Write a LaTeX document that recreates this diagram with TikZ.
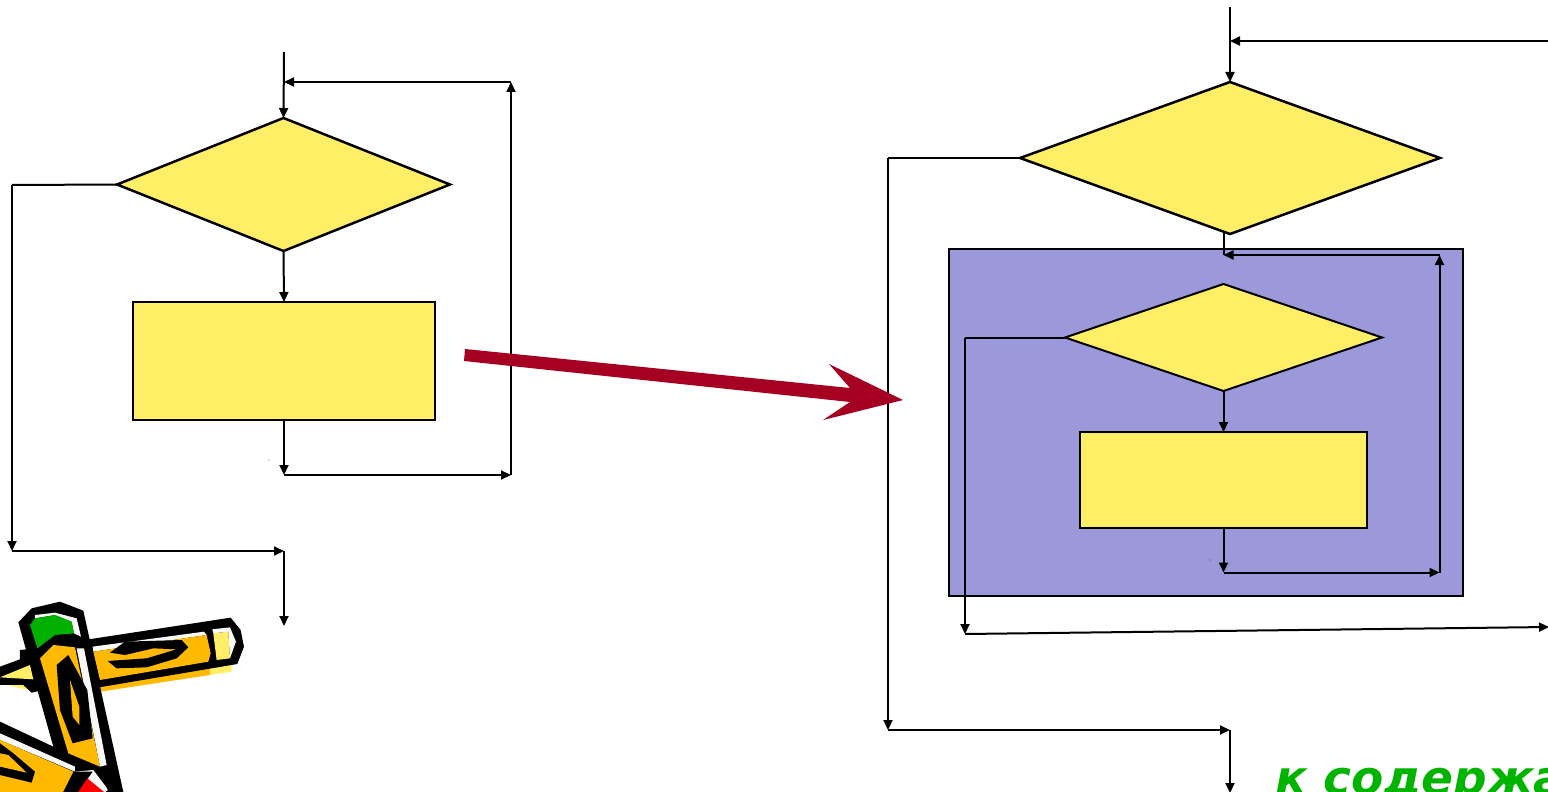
\documentclass[tikz,border=0pt]{standalone}
\usepackage{fontspec}
\setmainfont{DejaVu Sans}
\usetikzlibrary{shapes.geometric,arrows.meta}
\definecolor{boxyellow}{HTML}{FFEE66}
\definecolor{panelblue}{HTML}{9C99DB}
\definecolor{bigred}{HTML}{A50021}
\definecolor{linkgreen}{HTML}{00B400}
\definecolor{pencilorange}{HTML}{FFB900}
\definecolor{pencilgreen}{HTML}{00B000}
\definecolor{pencilwhite}{HTML}{F8F8F8}
\tikzset{
  dia/.style={shape=diamond,draw=black,line width=2.5pt,fill=boxyellow,inner sep=0pt,outer sep=0pt},
  boxy/.style={shape=rectangle,draw=black,line width=2pt,fill=boxyellow,inner sep=0pt,outer sep=0pt},
  flow/.style={draw=black,line width=2pt,-{Triangle[length=10pt,width=9pt]}},
  plain/.style={draw=black,line width=2pt},
}
\begin{document}
\begin{tikzpicture}[x=1pt,y=-1pt]
\useasboundingbox (0,0) rectangle (1548,792);
\clip (0,0) rectangle (1548,792);
\fill[white] (0,0) rectangle (1548,792);
% left flowchart
\node[dia,minimum width=333pt,minimum height=133pt,shape aspect=2.51] (d1) at (283.5,184.5) {};
\node[boxy,minimum width=302pt,minimum height=118pt] (r1) at (284,361) {};
\coordinate (a0) at (284,52);
\coordinate (a1) at (12,185);
\coordinate (a2) at (12,551);
\coordinate (a3) at (284,551);
\coordinate (a4) at (284,626);
\coordinate (a5) at (284,475);
\coordinate (a6) at (511,475);
\coordinate (a7) at (511,82);
\coordinate (a8) at (284,82);
\draw[flow] (a0) -- (d1.north);
\draw[plain] (d1.west) -- (a1);
\draw[flow] (a1) -- (a2);
\draw[flow] (a2) -- (a3);
\draw[flow] (a3) -- (a4);
\draw[flow] (d1.south) -- (r1.north);
\draw[flow] (r1.south) -- (a5);
\draw[flow] (a5) -- (a6);
\draw[flow] (a6) -- (a7);
\draw[flow] (a7) -- (a8);
\fill (269,460) circle (0.5pt);
% right flowchart
\node[shape=rectangle,draw=black,line width=2pt,fill=panelblue,minimum width=514pt,minimum height=347pt,inner sep=0pt] (panel) at (1206,422.5) {};
\node[dia,minimum width=420pt,minimum height=152pt,shape aspect=2.76] (d2) at (1230,158) {};
\node[dia,line width=2pt,minimum width=317pt,minimum height=107pt,shape aspect=2.96] (d3) at (1223.5,337.5) {};
\node[boxy,minimum width=287pt,minimum height=96pt] (r2) at (1223.5,480) {};
\coordinate (b0) at (1230,7);
\coordinate (b1) at (1548,41);
\coordinate (b2) at (1230,41);
\coordinate (b3) at (888,158);
\coordinate (b4) at (888,730);
\coordinate (b5) at (1230,730);
\coordinate (b6) at (1230,793);
\coordinate (b7) at (1223.5,232);
\coordinate (b8) at (1223.5,255);
\coordinate (b9) at (1439.5,255);
\coordinate (b10) at (1439.5,572.5);
\coordinate (b11) at (1223.5,572.5);
\coordinate (b12) at (965,337.5);
\coordinate (b13) at (965,634);
\coordinate (b14) at (1549,627);
\draw[flow] (b0) -- (d2.north);
\draw[flow] (b1) -- (b2);
\draw[plain] (d2.west) -- (b3);
\draw[flow] (b3) -- (b4);
\draw[flow] (b4) -- (b5);
\draw[flow] (b5) -- (b6);
\draw[plain] (b7) -- (b8);
\draw[flow] (d3.south) -- (r2.north);
\draw[flow] (r2.south) -- (b11);
\draw[flow] (b11) -- (b10);
\draw[flow] (b10) -- (b9);
\draw[flow] (b9) -- (b8);
\draw[plain] (d3.west) -- (b12);
\draw[flow] (b12) -- (b13);
\draw[flow] (b13) -- (b14);
\fill (1210,560) circle (0.5pt);
% big arrow
\fill[bigred] (465,349) -- (850,388) -- (829,364) -- (903,400) -- (823,420) -- (850,402) -- (464,361) -- cycle;
% link text
\node[anchor=base west,inner sep=0pt,font=\bfseries\itshape\fontsize{47pt}{47pt}\selectfont,text=linkgreen] (lnk) at (1275,794) {к содержанию};
% pencils clip art
\begin{scope}[shift={(0,590)},x=0.3333pt,y=-0.3333pt]
  % horizontal pencil
  \fill[pencilorange] (300,280) -- (630,225) -- (630,255) -- (300,305) -- cycle;
  \fill[boxyellow] (630,225) -- (695,215) -- (695,245) -- (630,255) -- cycle;
  \fill[black] (240,152) -- (692,83) -- (722,120) -- (732,170) -- (712,222) -- (280,295) -- cycle;
  \fill[pencilwhite] (278,170) -- (612,125) -- (620,135) -- (280,185) -- cycle;
  \fill[pencilorange] (280,185) -- (620,135) -- (632,190) -- (625,215) -- (300,270) -- cycle;
  \fill[boxyellow] (640,130) -- (685,125) -- (690,205) -- (650,210) -- cycle;
  \fill[pencilwhite] (637,118) -- (690,112) -- (708,155) -- (690,205) -- (685,125) -- (640,130) -- cycle;
  \fill[black] (330,188) -- (375,155) -- (545,150) -- (565,172) -- (530,205) -- (440,232) -- (350,235) -- (323,213) -- (440,205) -- (530,178) -- (460,175) -- (375,195) -- cycle;
  % left tip
  \fill[boxyellow] (0,280) -- (90,285) -- (85,300) -- cycle;
  \fill[black] (0,230) -- (60,208) -- (60,180) -- (110,175) -- (130,300) -- (95,308) -- (70,285) -- (0,285) -- cycle;
  \fill[boxyellow] (0,262) -- (90,225) -- (100,268) -- cycle;
  % bottom pencil
  \fill[black] (0,395) -- (160,470) -- (300,530) -- (330,606) -- (0,606) -- cycle;
  \fill[pencilwhite] (0,430) -- (225,530) -- (225,545) -- (0,450) -- cycle;
  \fill[pencilorange] (0,450) -- (220,545) -- (190,606) -- (0,606) -- cycle;
  \fill[pencilwhite] (225,545) -- (280,540) -- (325,600) -- (315,606) -- (250,606) -- cycle;
  \fill[black] (190,606) -- (222,545) -- (278,545) -- (235,606) -- cycle;
  \fill[red] (235,606) -- (262,565) -- (312,606) -- cycle;
  \fill[black] (0,460) -- (40,490) -- (105,545) -- (95,578) -- (0,555) -- cycle;
  \fill[pencilorange] (0,490) -- (25,495) -- (80,548) -- (0,530) -- cycle;
  % vertical pencil
  \fill[black] (55,97) -- (95,55) -- (180,35) -- (250,62) -- (370,606) -- (325,606) -- (300,535) -- (200,490) -- (160,470) -- cycle;
  \fill[pencilwhite] (105,75) -- (165,68) -- (230,85) -- (243,140) -- (222,130) -- (215,95) -- (165,75) -- (105,85) -- cycle;
  \fill[pencilgreen] (90,105) -- (105,85) -- (165,75) -- (215,95) -- (222,130) -- (165,135) -- (112,175) -- cycle;
  \fill[pencilorange] (120,205) -- (160,165) -- (225,172) -- (300,530) -- (205,490) -- cycle;
  \fill[pencilwhite] (230,175) -- (252,175) -- (320,525) -- (300,530) -- cycle;
  \fill[black] (170,225) -- (205,195) -- (262,300) -- (278,445) -- (218,460) -- (180,360) -- cycle;
  \fill[pencilorange] (210,270) -- (238,350) -- (238,405) -- (218,380) -- cycle;
\end{scope}
\end{tikzpicture}
\end{document}
